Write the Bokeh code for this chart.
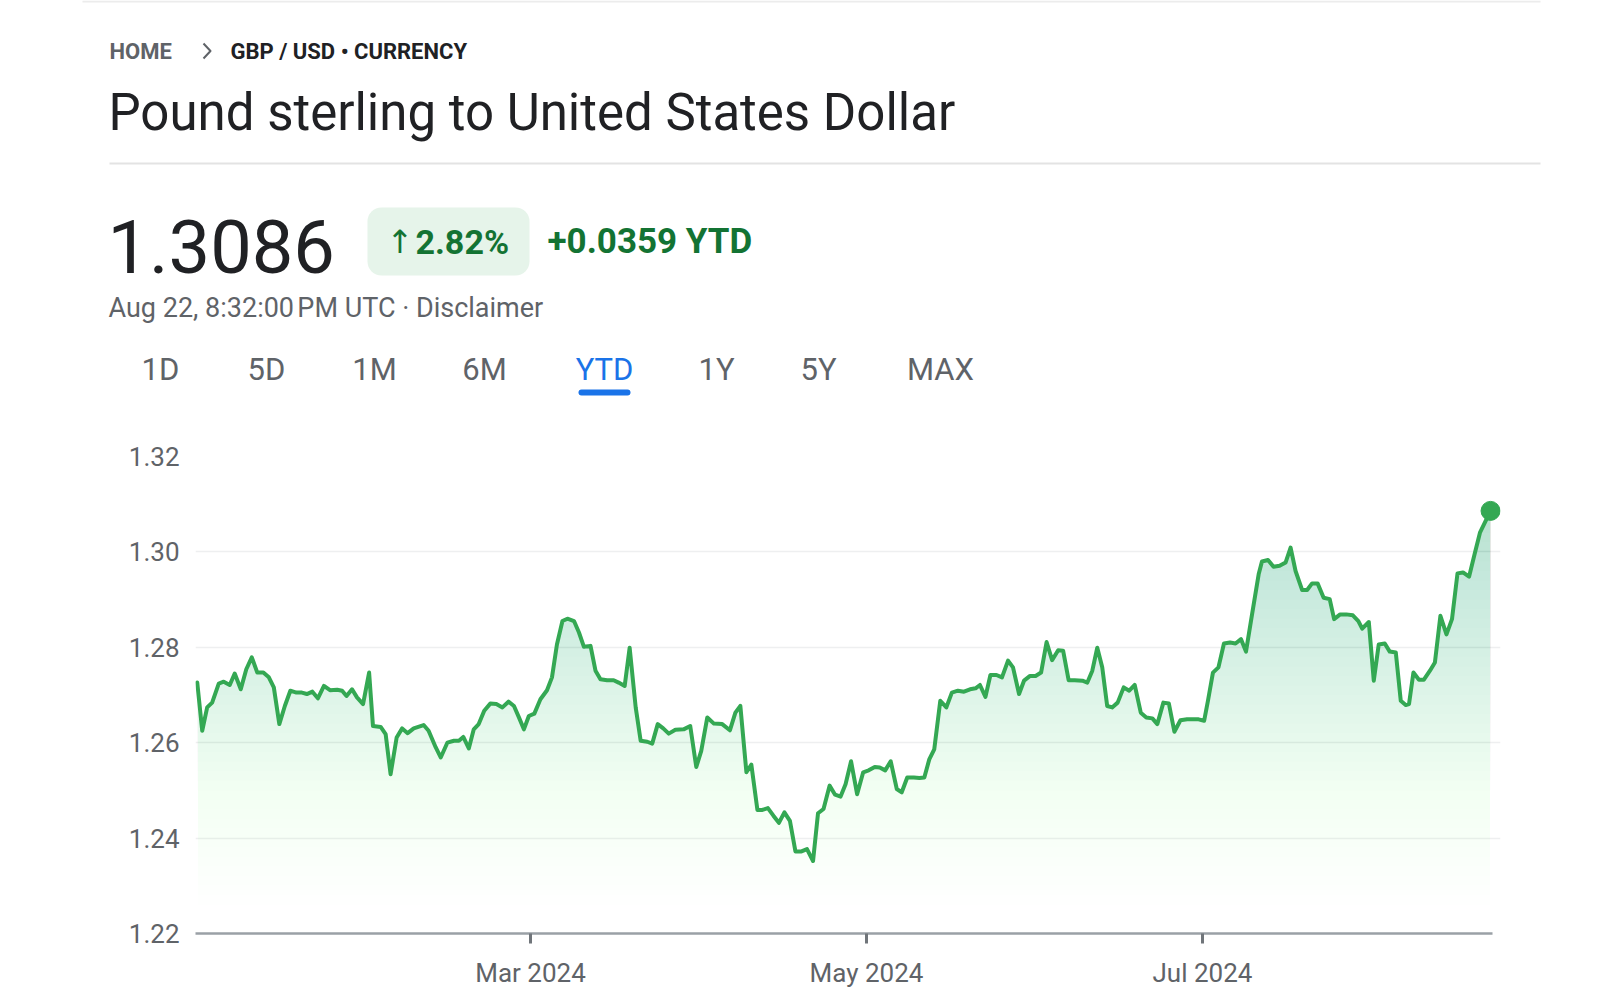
import numpy as np
import pandas as pd
from datetime import datetime, timedelta
from bokeh.plotting import figure
from bokeh.layouts import column
from bokeh.models import (Range1d, FixedTicker, PrintfTickFormatter, DatetimeTickFormatter,
                          BoxAnnotation)
from bokeh.core.properties import value
from bokeh.embed import file_html
from bokeh.resources import INLINE

# ---------------- data ----------------
start_date = "2024-01-01"
day_offsets = [
    -0.5, 0.4, 1.3, 2.2, 3.4, 4.3, 5.4, 6.3, 7.4, 8.4,
    9.4, 10.4, 11.5, 12.5, 13.4, 14.4, 15.4, 16.4, 17.5, 18.5,
    19.4, 20.4, 21.4, 22.5, 23.6, 24.9, 25.8, 26.6, 27.6, 28.5,
    29.6, 30.7, 31.4, 32.8, 33.7, 34.6, 35.7, 36.7, 37.7, 38.8,
    40.6, 41.5, 42.8, 43.7, 44.9, 46.1, 47.0, 47.8, 48.8, 49.7,
    50.6, 51.6, 52.7, 53.8, 54.9, 56.0, 57.0, 57.9, 58.8, 59.7,
    60.7, 61.8, 63.0, 63.9, 64.8, 65.8, 66.7, 67.9, 68.8, 69.7,
    70.9, 71.8, 72.7, 73.9, 75.1, 76.0, 77.1, 78.0,
    79.1, 80.0, 81.2, 82.1, 83.1, 84.1, 85.1, 86.3, 87.8, 89.0,
    90.1, 91.0, 92.1, 93.3, 94.8, 96.2, 97.2, 98.1, 99.2, 100.1,
    101.2, 102.1, 103.1, 104.1, 105.1, 106.1, 107.1, 108.1, 109.2, 110.2,
    111.3, 112.2, 113.2, 114.3, 115.3, 116.3, 117.2, 118.2, 119.3,
    120.4, 121.4, 122.5, 123.4, 124.4, 125.4, 126.5, 127.4, 128.4, 129.6,
    130.6, 131.5, 132.4, 133.3, 134.4, 135.5, 136.5, 137.6, 138.7, 139.8,
    140.8, 141.6, 142.6, 143.5, 144.6, 145.6, 146.7, 147.6, 148.7, 149.6,
    150.7, 151.7, 152.7, 153.7, 154.7, 155.8, 156.7, 157.7, 158.8,
    160.2, 161.1, 162.0, 162.9, 163.8, 164.7, 165.6, 166.6, 167.7, 168.7,
    169.7, 170.8, 171.8, 172.9, 173.8, 174.9, 175.9, 176.9, 178.0, 179.2,
    180.4, 181.3, 182.3, 183.0, 183.9, 184.9, 185.9, 187.0, 188.0, 189.0,
    189.9, 191.0, 192.2, 192.8, 193.9, 194.9, 196.0, 197.1, 198.0, 198.9,
    200.1, 201.0, 201.9, 202.9, 204.0, 205.1, 205.9, 207.0, 208.1, 209.3,
    210.3, 211.0, 212.2, 213.1, 214.0, 215.1, 216.0, 217.1, 218.0, 218.9,
    219.5, 220.3, 221.3, 222.2, 223.3, 224.2, 225.2, 226.3, 227.3, 228.3,
    229.3, 230.4, 231.4, 232.4, 234.3,
]
rates = [
    1.2726, 1.2625, 1.2674, 1.2684, 1.2724, 1.2728, 1.2721, 1.2745, 1.2712, 1.2754,
    1.2779, 1.2747, 1.2747, 1.2737, 1.2716, 1.2639, 1.2677, 1.2709, 1.2705, 1.2705,
    1.2702, 1.2707, 1.2693, 1.2719, 1.2710, 1.2711, 1.2709, 1.2698, 1.2712, 1.2695,
    1.2681, 1.2747, 1.2635, 1.2633, 1.2618, 1.2534, 1.2611, 1.2630, 1.2620, 1.2630,
    1.2637, 1.2625, 1.2590, 1.2569, 1.2600, 1.2604, 1.2604, 1.2612, 1.2588, 1.2628,
    1.2639, 1.2667, 1.2682, 1.2681, 1.2674, 1.2686, 1.2677, 1.2653, 1.2628, 1.2656,
    1.2661, 1.2691, 1.2710, 1.2737, 1.2806, 1.2855, 1.2860, 1.2855, 1.2831, 1.2801,
    1.2803, 1.2751, 1.2733, 1.2731, 1.2731, 1.2726, 1.2719, 1.2799,
    1.2674, 1.2604, 1.2602, 1.2598, 1.2639, 1.2630, 1.2619, 1.2627, 1.2628, 1.2635,
    1.2549, 1.2583, 1.2653, 1.2640, 1.2639, 1.2626, 1.2663, 1.2677, 1.2538, 1.2554,
    1.2459, 1.2459, 1.2463, 1.2447, 1.2432, 1.2454, 1.2436, 1.2372, 1.2372, 1.2377,
    1.2352, 1.2452, 1.2461, 1.2510, 1.2491, 1.2487, 1.2513, 1.2561, 1.2492,
    1.2538, 1.2542, 1.2549, 1.2548, 1.2542, 1.2561, 1.2503, 1.2496, 1.2527, 1.2527,
    1.2526, 1.2527, 1.2565, 1.2586, 1.2688, 1.2674, 1.2705, 1.2709, 1.2707, 1.2712,
    1.2714, 1.2721, 1.2696, 1.2742, 1.2742, 1.2737, 1.2772, 1.2758, 1.2702, 1.2730,
    1.2740, 1.2740, 1.2747, 1.2811, 1.2773, 1.2794, 1.2793, 1.2731, 1.2731,
    1.2730, 1.2726, 1.2751, 1.2799, 1.2758, 1.2677, 1.2674, 1.2684, 1.2716, 1.2709,
    1.2721, 1.2663, 1.2653, 1.2651, 1.2639, 1.2684, 1.2682, 1.2623, 1.2647, 1.2649,
    1.2649, 1.2649, 1.2646, 1.2688, 1.2747, 1.2758, 1.2808, 1.2810, 1.2808, 1.2817,
    1.2791, 1.2869, 1.2953, 1.2980, 1.2983, 1.2969, 1.2971, 1.2978, 1.3009, 1.2960,
    1.2920, 1.2920, 1.2934, 1.2934, 1.2904, 1.2901, 1.2859, 1.2869, 1.2869, 1.2867,
    1.2855, 1.2839, 1.2853, 1.2730, 1.2806, 1.2808, 1.2791, 1.2789, 1.2688, 1.2679,
    1.2681, 1.2747, 1.2732, 1.2732, 1.2751, 1.2768, 1.2866, 1.2827, 1.2859, 1.2955,
    1.2957, 1.2948, 1.2995, 1.3041, 1.3086,
]
assert len(day_offsets) == len(rates)

y_ticks = [1.22, 1.24, 1.26, 1.28, 1.30, 1.32]
x_tick_dates = ["2024-03-01", "2024-05-01", "2024-07-01"]
y_min, y_max = 1.22, 1.32

breadcrumb_home = "HOME"
breadcrumb_rest = "GBP / USD \u2022 CURRENCY"
title_text = "Pound sterling to United States Dollar"
price_text = "1.3086"
pct_arrow = "\u2191"
pct_text = "2.82%"
ytd_text = "+0.0359 YTD"
time_text = "Aug 22, 8:32:00\u202fPM UTC \u00b7 Disclaimer"
tabs = ["1D", "5D", "1M", "6M", "YTD", "1Y", "5Y", "MAX"]
active_tab = "YTD"

# ---------------- styling / geometry ----------------
GREEN = "#34a853"
DARK = "#202124"
GRAY = "#5f6368"
FONT = "Roboto"

W = 1610
HDR_H = 426
FL, FR = 195, 1500                 # chart frame left / right (canvas px)
CH_TOP, CH_FRAME_H, CH_BOT = 30, 477, 67
PX_PER_DAY = 5.508
DAY_AT_FL = -0.82
x_start = DAY_AT_FL
x_end = DAY_AT_FL + (FR - FL) / PX_PER_DAY
axis_end = DAY_AT_FL + (1492 - FL) / PX_PER_DAY

def no_align(fig):
    if "frame_align" in fig.properties():
        fig.frame_align = False

# ---------------- header figure ----------------
hdr = figure(frame_width=W, frame_height=HDR_H, x_range=Range1d(0, W), y_range=Range1d(HDR_H, 0),
             output_backend="svg", toolbar_location=None, x_axis_type=None, y_axis_type=None,
             min_border=0, outline_line_color=None)
hdr.grid.visible = False
no_align(hdr)

def htext(x, baseline, t, size, color, style="normal", align="left", font=FONT):
    hdr.text(x=[x], y=[baseline - 0.36 * size], text=[t], text_font=value(font),
             text_font_size=f"{size}px", text_color=color, text_font_style=style,
             text_align=align, text_baseline="middle")

hdr.segment(x0=[82], y0=[1], x1=[1540], y1=[1], line_color="#ececec", line_width=2)
hdr.segment(x0=[109], y0=[163], x1=[1540], y1=[163], line_color="#e3e3e3", line_width=2)

htext(109, 58.5, breadcrumb_home, 22, GRAY, "bold")
hdr.line(x=[203, 210, 203], y=[43, 50.5, 58], line_color=GRAY, line_width=2, line_join="round")
htext(230, 58.5, breadcrumb_rest, 22, DARK, "bold")

htext(108, 130.5, title_text, 51, DARK)

htext(107, 273, price_text, 74, DARK)
hdr.add_layout(BoxAnnotation(left=367, right=529, top=207, bottom=275, fill_color="#e6f4ea",
                             fill_alpha=1.0, line_color=None, border_radius=14, level="underlay"))
htext(386, 253.5, pct_arrow, 32, "#137333", "normal", "left", "DejaVu Sans")
htext(415, 253.5, pct_text, 34, "#137333", "bold")
htext(547, 253.5, ytd_text, 35, "#137333", "bold")

htext(108, 317.5, time_text, 27, GRAY)

tab_x = [160, 266, 374, 484, 604, 716, 818, 940]
for tx, t in zip(tab_x, tabs):
    htext(tx, 380, t, 31, "#1a73e8" if t == active_tab else GRAY, "normal", "center")
hdr.line(x=[581, 627], y=[392, 392], line_color="#1a73e8", line_width=6, line_cap="round")

# ---------------- chart figure ----------------
t0 = datetime(2024, 1, 1)
xs = [t0 + timedelta(days=d) for d in day_offsets]
ys = np.array(rates)

p = figure(frame_width=FR - FL, frame_height=CH_FRAME_H, x_axis_type="datetime",
           x_range=Range1d(t0 + timedelta(days=x_start), t0 + timedelta(days=x_end)),
           y_range=Range1d(y_min, y_max), output_backend="svg", toolbar_location=None,
           min_border_left=FL, min_border_right=W - FR, min_border_top=CH_TOP,
           min_border_bottom=CH_BOT, outline_line_color=None)
no_align(p)

# gradient area emulated with stacked translucent layers
levels = np.arange(1.222, 1.312, 0.002)
prev = 0.0
for L in levels:
    target = 0.25 * np.clip((L + 0.001 - 1.225) / 0.08, 0, 1.2) ** 1.3
    if target <= prev:
        continue
    a = 1 - (1 - target) / (1 - prev)
    prev = target
    p.varea(x=xs, y1=np.minimum(ys, L), y2=ys, fill_color=GREEN, fill_alpha=float(a))

p.line(x=xs, y=ys, line_color=GREEN, line_width=4, line_join="round", line_cap="round")
p.scatter(x=[xs[-1]], y=[ys[-1]], size=19, fill_color=GREEN, line_color=GREEN)

p.xgrid.visible = False
p.ygrid.ticker = FixedTicker(ticks=y_ticks)
p.ygrid.grid_line_color = "#eeeff0"
p.ygrid.grid_line_width = 1.5

p.yaxis.ticker = FixedTicker(ticks=y_ticks)
p.yaxis.formatter = PrintfTickFormatter(format="%.2f")
p.yaxis.axis_line_color = None
p.yaxis.major_tick_line_color = None
p.yaxis.minor_tick_line_color = None
p.yaxis.major_tick_out = 0
p.yaxis.major_tick_in = 0
p.yaxis.major_label_standoff = 16
p.yaxis.major_label_text_font = FONT
p.yaxis.major_label_text_font_size = "26px"
p.yaxis.major_label_text_color = GRAY

x_ticks_ms = [pd.Timestamp(d).timestamp() * 1000 for d in x_tick_dates]
p.xaxis.ticker = FixedTicker(ticks=x_ticks_ms)
fmt = "%b %Y"
p.xaxis.formatter = DatetimeTickFormatter(days=fmt, months=fmt, years=fmt, hours=fmt,
                                          hourmin=fmt, minutes=fmt, minsec=fmt, seconds=fmt,
                                          milliseconds=fmt, microseconds=fmt)
p.xaxis.bounds = (t0 + timedelta(days=x_start), t0 + timedelta(days=axis_end))
p.xaxis.axis_line_color = "#9aa0a6"
p.xaxis.axis_line_width = 2.5
p.xaxis.major_tick_line_color = "#70757a"
p.xaxis.major_tick_line_width = 3
p.xaxis.major_tick_out = 10
p.xaxis.major_tick_in = 0
p.xaxis.minor_tick_line_color = None
p.xaxis.major_label_standoff = 14
p.xaxis.major_label_text_font = FONT
p.xaxis.major_label_text_font_size = "26px"
p.xaxis.major_label_text_color = GRAY

layout = column(hdr, p, spacing=0)
open("out.html", "w").write(file_html(layout, INLINE))
